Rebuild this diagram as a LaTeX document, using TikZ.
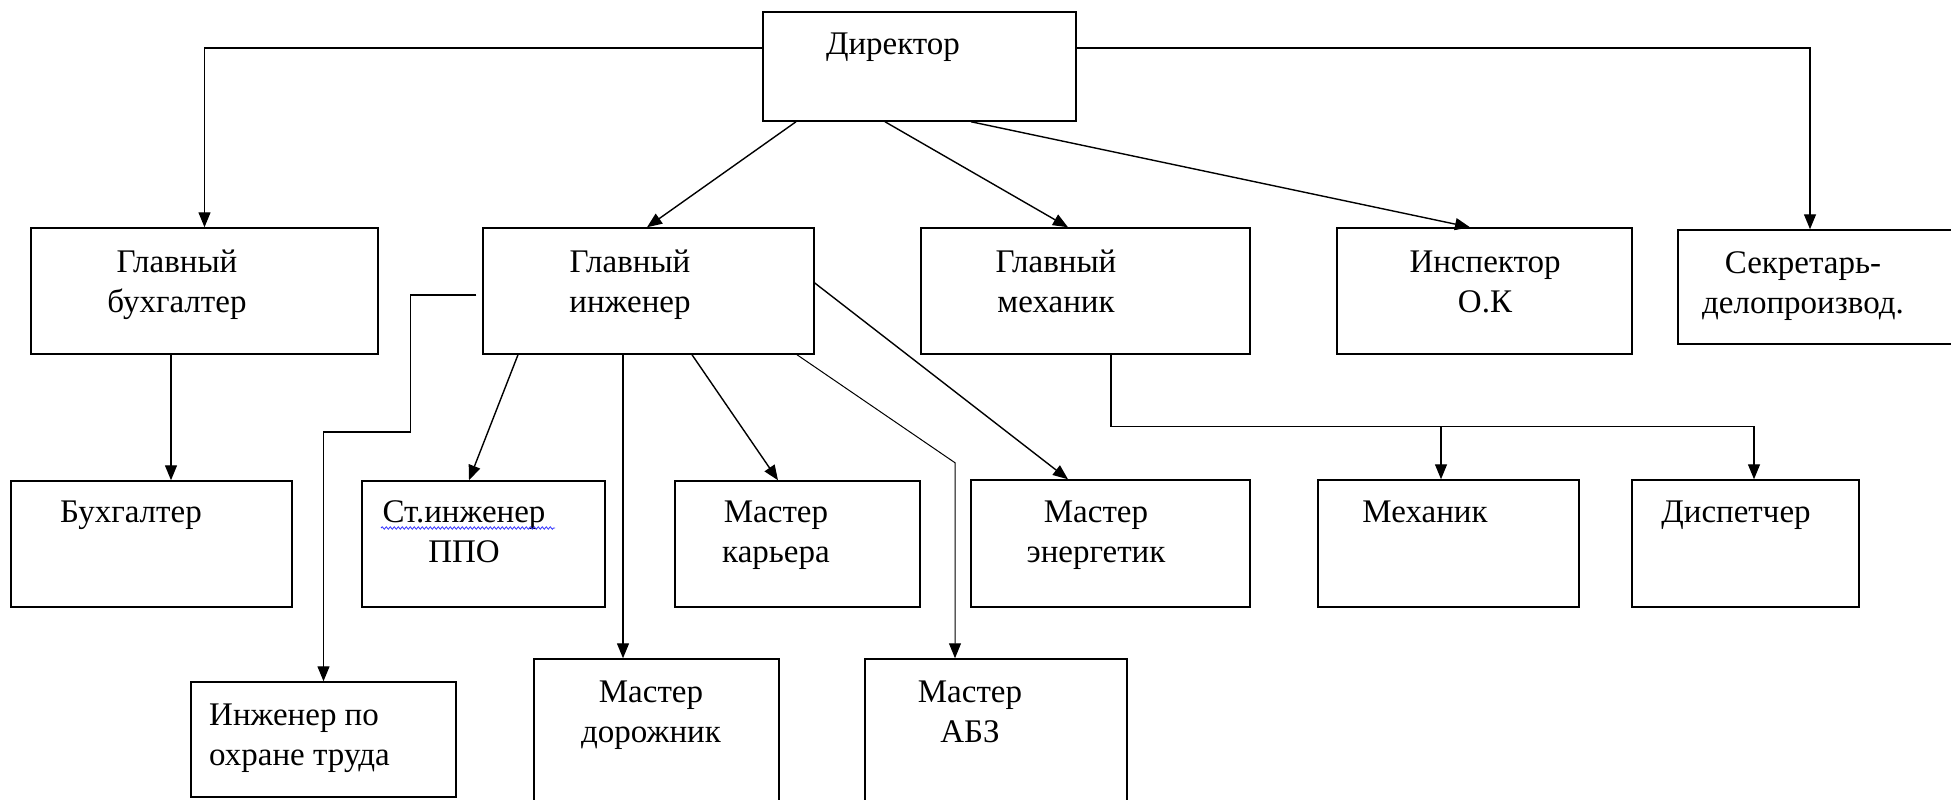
\documentclass[tikz,border=0pt]{standalone}
\usepackage{fontspec}
\setmainfont{Liberation Serif}
\usetikzlibrary{arrows.meta,decorations.pathmorphing}
\begin{document}
\begin{tikzpicture}[x=1pt,y=-1pt,
  box/.style={draw,line width=1.5pt,inner sep=0pt,minimum width=#1},
  lbl/.style={font=\fontsize{33}{40}\selectfont,align=center,anchor=base,inner sep=0pt},
  arr/.style={line width=1.4pt,-{Triangle[length=15pt,width=12pt]}},
  ln/.style={line width=1.4pt}]
\useasboundingbox (0,0) rectangle (1951,800);
% boxes
\node[box=313pt,minimum height=109pt] (dir) at (919.5,66.5) {};
\node[box=347pt,minimum height=126pt] (gb) at (204.5,291) {};
\node[box=331pt,minimum height=126pt] (gi) at (648.5,291) {};
\node[box=329pt,minimum height=126pt] (gm) at (1085.5,291) {};
\node[box=295pt,minimum height=126pt] (insp) at (1484.5,291) {};
\node[box=287pt,minimum height=114pt] (sekr) at (1821.5,287) {};
\node[box=281pt,minimum height=126pt] (buh) at (151.5,544) {};
\node[box=243pt,minimum height=126pt] (st) at (483.5,544) {};
\node[box=245pt,minimum height=126pt] (mk) at (797.5,544) {};
\node[box=279pt,minimum height=127pt] (me) at (1110.5,543.5) {};
\node[box=261pt,minimum height=127pt] (mech) at (1448.5,543.5) {};
\node[box=227pt,minimum height=127pt] (disp) at (1745.5,543.5) {};
\node[box=265pt,minimum height=115pt] (iot) at (323.5,739.5) {};
\node[box=245pt,minimum height=171pt] (md) at (656.5,744.5) {};
\node[box=262pt,minimum height=171pt] (abz) at (996,744.5) {};
% texts (base anchor = baseline of the last line)
\node[lbl] (tdir) at (893,55) {Директор};
\node[lbl] (tgb) at (177,312) {Главный\\бухгалтер};
\node[lbl] (tgi) at (630,312) {Главный\\инженер};
\node[lbl] (tgm) at (1056,312) {Главный\\механик};
\node[lbl] (tinsp) at (1485,312) {Инспектор\\О.К};
\node[lbl] (tsekr) at (1803,313) {Секретарь-\\делопроизвод.};
\node[lbl] (tbuh) at (131,522) {Бухгалтер};
\node[lbl] (tst) at (464,562) {Ст.инженер\\ППО};
\node[lbl] (tmk) at (776,562) {Мастер\\карьера};
\node[lbl] (tme) at (1096,562) {Мастер\\энергетик};
\node[lbl] (tmech) at (1425,522) {Механик};
\node[lbl] (tdisp) at (1736,522) {Диспетчер};
\node[lbl,align=left,anchor=base west] (tiot) at (209,765) {Инженер по\\охране труда};
\node[lbl] (tmd) at (651,742) {Мастер\\дорожник};
\node[lbl] (tabz) at (970,742) {Мастер\\АБЗ};
% spell-check underline
\coordinate (u1) at (381,528);
\coordinate (u2) at (555,528);
\draw[blue!80!white,line width=0.8pt,decorate,decoration={snake,amplitude=1.2pt,segment length=4pt}] (u1) -- (u2);
% connectors
\draw[arr] ([yshift=18.5pt]dir.west) -| (gb.north);
\draw[arr] ([yshift=18.5pt]dir.east) -| ([xshift=-11.5pt]sekr.north);
\draw[arr] ([xshift=-123.5pt]dir.south) -- ([xshift=-1.5pt]gi.north);
\draw[arr] ([xshift=-34.5pt]dir.south) -- ([xshift=-17.5pt]gm.north);
\draw[arr] ([xshift=51.5pt]dir.south) -- ([xshift=-14.5pt]insp.north);
\draw[arr] ([xshift=-33.5pt]gb.south) -- ([xshift=19.5pt]buh.north);
\draw[arr] ([xshift=-6pt,yshift=-4pt]gi.west) -- ++(-66,0) -- ++(0,137) -| (iot.north);
\draw[arr] ([xshift=-130.5pt]gi.south) -- ([xshift=-14.5pt]st.north);
\draw[arr] ([xshift=-25.5pt]gi.south) -- ([xshift=-33.5pt]md.north);
\draw[arr] ([xshift=43.5pt]gi.south) -- ([xshift=-19.5pt]mk.north);
\draw[arr,line width=1pt] ([xshift=148.5pt]gi.south) -- ++(158,108) -- ([xshift=-41pt]abz.north);
\draw[arr] ([yshift=8pt]gi.east) -- ([xshift=-42.5pt]me.north);
\draw[arr] ([xshift=25.5pt]gm.south) -- ++(0,72) coordinate (j1) -| ([xshift=8.5pt]disp.north);
\coordinate (mj) at ([xshift=-7.5pt]mech.north);
\draw[arr] (mj |- j1) -- (mj);
\end{tikzpicture}
\end{document}
